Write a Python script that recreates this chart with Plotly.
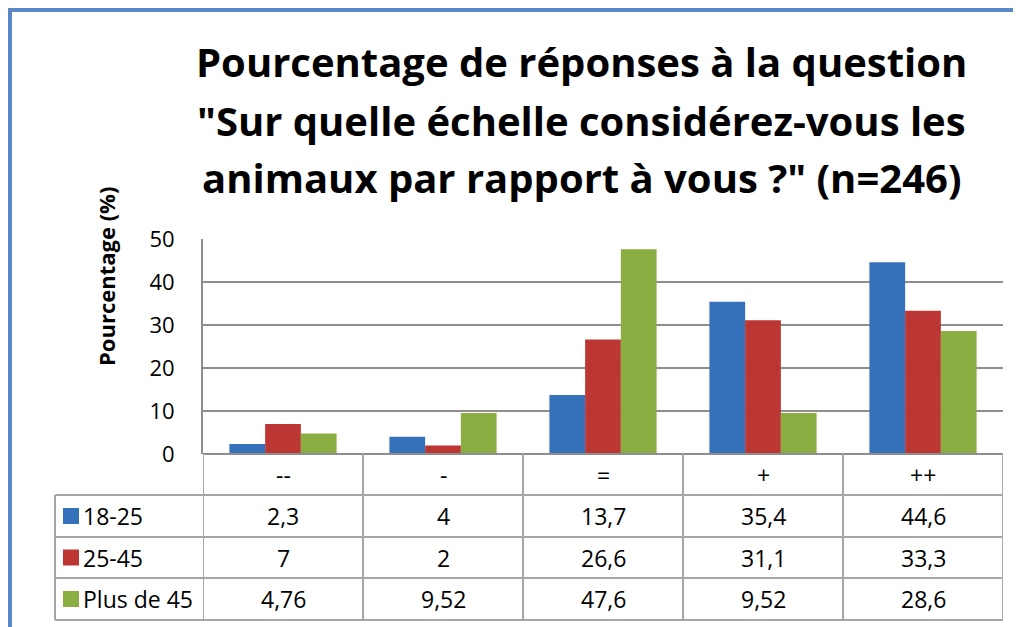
import plotly.graph_objects as go

categories = ["--", "-", "=", "+", "++"]
series_names = ["18-25", "25-45", "Plus de 45"]
values_18_25 = [2.3, 4, 13.7, 35.4, 44.6]
values_25_45 = [7, 2, 26.6, 31.1, 33.3]
values_plus45 = [4.76, 9.52, 47.6, 9.52, 28.6]
series_values = [values_18_25, values_25_45, values_plus45]
colors = ["#3570BA", "#BC3734", "#8AAE42"]
y_ticks = [0, 10, 20, 30, 40, 50]

title_lines = [
    "Pourcentage de réponses à la question",
    "\"Sur quelle échelle considérez-vous les",
    "animaux par rapport à vous ?\" (n=246)",
]
y_title = "Pourcentage (%)"

FONT = "Open Sans"
GRID = "#8E8E8E"
TABLE = "#A6A6A6"

# page offset (browser body margin)
OFF = 8
W, H = 1021, 627
# reference-pixel geometry of the plot area
REF_L, REF_R, REF_T, REF_B = 203, 1003, 239, 454
L = REF_L - OFF
T = REF_T - OFF
R = W - (REF_R - OFF)
B = H - (REF_B - OFF)
PW = REF_R - REF_L
PH = REF_B - REF_T


def py(pix):
    return (REF_B - pix) / PH


def px(pix):
    return (pix - REF_L) / PW


fig = go.Figure()
for name, vals, col in zip(series_names, series_values, colors):
    fig.add_trace(go.Bar(
        x=categories, y=vals, name=name,
        marker=dict(color=col, line=dict(width=0)),
    ))

fig.update_layout(
    width=W, height=H,
    margin=dict(l=L, r=R, t=T, b=B),
    paper_bgcolor="white", plot_bgcolor="white",
    barmode="group", bargap=0.33, bargroupgap=0,
    showlegend=False,
    font=dict(family=FONT, size=21, color="black"),
)
fig.update_yaxes(
    range=[0, 50], tickvals=y_ticks, ticks="",
    showgrid=True, gridcolor=GRID, gridwidth=2,
    showline=True, linecolor=GRID, linewidth=2,
    zeroline=False, ticklabelstandoff=22,
    tickfont=dict(size=22, family=FONT),
)
fig.update_xaxes(
    showticklabels=False, ticks="", showline=False, showgrid=False,
    range=[-0.5, len(categories) - 0.5],
)

shapes = []
annotations = []

# axis baseline
shapes.append(dict(type="line", xref="paper", yref="paper", x0=0, x1=1, y0=0, y1=0,
                   line=dict(color=GRID, width=2)))

row_tops = [454, 495, 537, 578, 620]
for r in row_tops[1:]:
    shapes.append(dict(type="line", xref="paper", yref="paper",
                       x0=px(55), x1=1, y0=py(r), y1=py(r),
                       line=dict(color=TABLE, width=2)))
for i in range(len(categories) + 1):
    shapes.append(dict(type="line", xref="x", yref="paper",
                       x0=i - 0.5, x1=i - 0.5, y0=0, y1=py(620),
                       line=dict(color=TABLE, width=2)))
shapes.append(dict(type="line", xref="paper", yref="paper",
                   x0=px(55), x1=px(55), y0=py(495), y1=py(620),
                   line=dict(color=TABLE, width=2)))

TFS = 23
for c in categories:
    annotations.append(dict(x=c, xref="x", y=py(475), yref="paper", text=c,
                            showarrow=False, font=dict(size=TFS, family=FONT),
                            xanchor="center", yanchor="middle"))


def fmt(v):
    if float(v).is_integer():
        return str(int(v))
    return str(v).replace(".", ",")


for j, (name, vals, col) in enumerate(zip(series_names, series_values, colors)):
    ymid = (row_tops[j + 1] + row_tops[j + 2]) / 2
    for c, v in zip(categories, vals):
        annotations.append(dict(x=c, xref="x", y=py(ymid), yref="paper", text=fmt(v),
                                showarrow=False, font=dict(size=TFS, family=FONT),
                                xanchor="center", yanchor="middle"))
    annotations.append(dict(x=px(81), xref="paper", y=py(ymid), yref="paper", text=name,
                            showarrow=False, font=dict(size=TFS, family=FONT),
                            xanchor="left", yanchor="middle"))
    shapes.append(dict(type="rect", xref="paper", yref="paper",
                       x0=px(63), x1=px(79), y0=py(ymid - 8), y1=py(ymid + 8),
                       fillcolor=col, line=dict(width=0)))

for line, cy in zip(title_lines, [62, 120, 177]):
    annotations.append(dict(x=px(581), xref="paper", y=py(cy), yref="paper", text="<b>" + line + "</b>",
                            showarrow=False, font=dict(size=40, family=FONT),
                            xanchor="center", yanchor="middle"))

annotations.append(dict(x=px(106), xref="paper", y=py(277), yref="paper", text="<b>" + y_title + "</b>",
                        showarrow=False, textangle=-90, font=dict(size=22, family=FONT),
                        xanchor="center", yanchor="middle"))

# blue outer frame
shapes.append(dict(type="rect", xref="paper", yref="paper",
                   x0=px(10), x1=px(W + 60), y0=py(H + 60), y1=py(10),
                   line=dict(color="#5A88C4", width=4), fillcolor="rgba(0,0,0,0)", layer="above"))

fig.update_layout(shapes=shapes, annotations=annotations)
fig.write_html("out.html")
